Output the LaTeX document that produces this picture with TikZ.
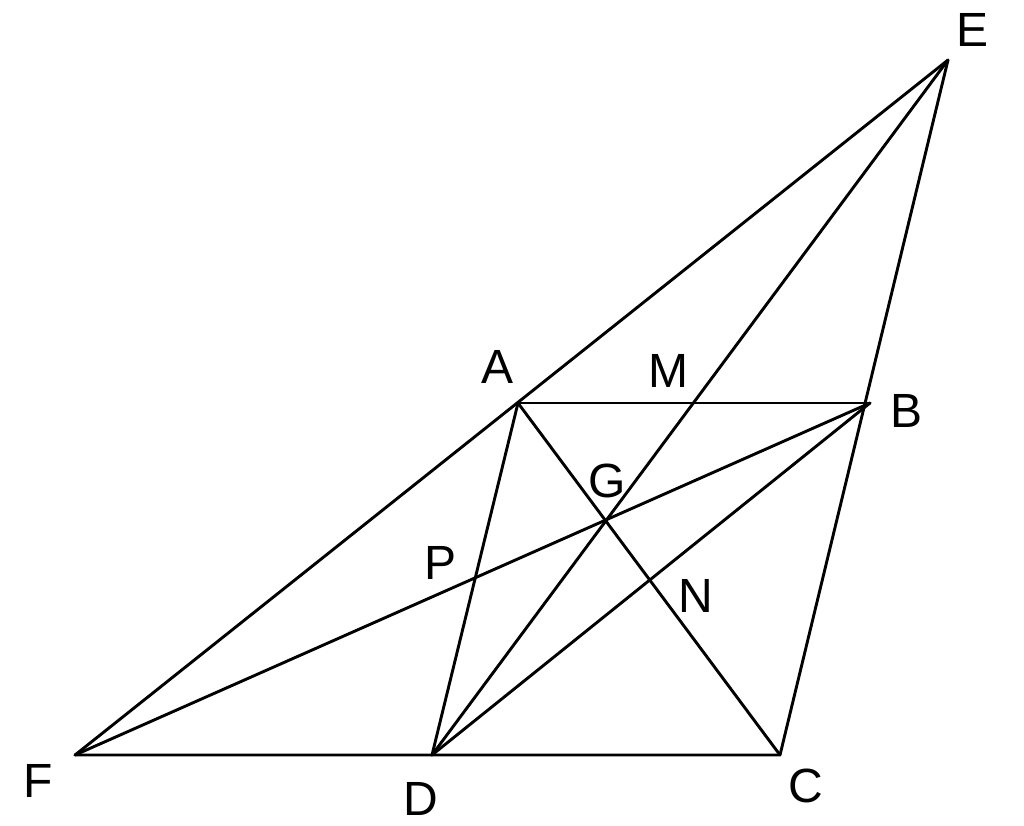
\documentclass[tikz,border=0pt]{standalone}
\usepackage{fontspec}
\setmainfont{Liberation Sans}
\begin{document}
\begin{tikzpicture}[x=1pt,y=-1pt,
  seg/.style={line width=2.9pt,line cap=round,line join=round},
  lbl/.style={font=\fontsize{48}{48}\selectfont,inner sep=0pt,anchor=center}]
\useasboundingbox (0,0) rectangle (1024,825);
\coordinate (E) at (948,60);
\coordinate (A) at (518,403);
\coordinate (B) at (870,403);
\coordinate (F) at (75,755);
\coordinate (D) at (432,755);
\coordinate (C) at (780,755);
\draw[seg] (F) -- (E) -- (C) -- (F);
\draw[seg] (A) -- (B);
\draw[seg] (A) -- (D);
\draw[seg] (A) -- (C);
\draw[seg] (F) -- (B);
\draw[seg] (D) -- (B);
\draw[seg] (D) -- (E);
\node[lbl] (lE) at (972,30) {E};
\node[lbl] (lA) at (497,367) {A};
\node[lbl] (lM) at (668,371) {M};
\node[lbl] (lB) at (906,411) {B};
\node[lbl] (lG) at (607,481) {G};
\node[lbl] (lP) at (441,563) {P};
\node[lbl] (lN) at (696,596) {N};
\node[lbl] (lF) at (38,781) {F};
\node[lbl] (lD) at (421,799) {D};
\node[lbl] (lC) at (806,786) {C};
\end{tikzpicture}
\end{document}
